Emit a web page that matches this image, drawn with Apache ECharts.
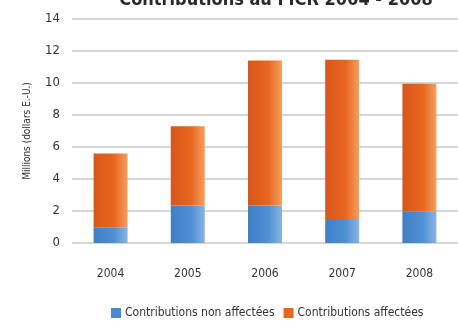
<!DOCTYPE html>
<html><head><meta charset="utf-8">
<script src="https://cdn.jsdelivr.net/npm/echarts@6/dist/echarts.min.js"></script>
<style>html,body{margin:0;padding:0;background:#fff}#c{width:458px;height:323px}</style>
</head><body><div id="c"></div>
<script>
var categories = ['2004', '2005', '2006', '2007', '2008'];
var nonAffectees = [0.95, 2.35, 2.35, 1.5, 1.95];
var affectees = [4.65, 4.95, 9.05, 9.95, 8.0];
var yTicks = [0, 2, 4, 6, 8, 10, 12, 14];
var seriesNames = ['Contributions non affectées', 'Contributions affectées'];

var FONT = '"Liberation Sans Narrow", "DejaVu Sans Condensed", Roboto, sans-serif';
function grad(c1, c2, c3) {
  return new echarts.graphic.LinearGradient(0, 0, 1, 0, [
    {offset: 0, color: c1}, {offset: 0.6, color: c2}, {offset: 1, color: c3}
  ]);
}
var chart = echarts.init(document.getElementById('c'), null, {renderer: 'canvas'});
chart.setOption({
  animation: false,
  title: {
    text: 'Contributions au FICR 2004 - 2008',
    left: 271, textAlign: 'center', top: -14,
    textStyle: {fontFamily: FONT, fontSize: 18, fontWeight: 'bold', color: '#2a2a2a'}
  },
  grid: {left: 72, right: -9, top: 19, bottom: 80, containLabel: false},
  legend: {
    bottom: -1, left: 106, itemWidth: 10, itemHeight: 10, itemGap: 9,
    icon: 'rect',
    textStyle: {fontFamily: FONT, fontSize: 12, color: '#333', padding: [0, 0, 0, -1]},
    data: seriesNames
  },
  xAxis: {
    type: 'category', data: categories,
    axisLine: {show: false}, axisTick: {show: false},
    axisLabel: {fontFamily: FONT, fontSize: 12, color: '#333', margin: 25}
  },
  yAxis: {
    type: 'value', min: 0, max: 14, interval: 2,
    name: 'Millions (dollars E.-U.)', nameLocation: 'middle', nameGap: 40,
    nameTextStyle: {fontFamily: FONT, fontSize: 10, color: '#333'},
    axisLine: {show: false}, axisTick: {show: false},
    axisLabel: {fontFamily: FONT, fontSize: 13, color: '#333', margin: 12,
      formatter: function (v) { return yTicks.indexOf(v) >= 0 ? String(v) : ''; }},
    splitLine: {lineStyle: {color: '#c8c8c8', width: 1.5}}
  },
  series: [
    {name: seriesNames[0], type: 'bar', stack: 't', data: nonAffectees, barWidth: 34,
     itemStyle: {color: grad('#3f7fc6', '#4f8fd4', '#8ab4e2')}},
    {name: seriesNames[1], type: 'bar', stack: 't', data: affectees, barWidth: 34,
     itemStyle: {color: grad('#d9561a', '#e8661f', '#f3a060')}}
  ]
});
chart.setOption({legend: {data: [
  {name: seriesNames[0], itemStyle: {color: '#4a88cf'}},
  {name: seriesNames[1], itemStyle: {color: '#e8661f'}}
]}});
</script></body></html>
